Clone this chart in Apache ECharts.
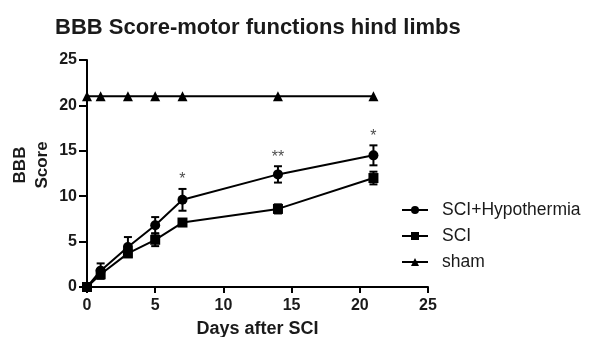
<!DOCTYPE html>
<html>
<head>
<meta charset="utf-8">
<script src="https://cdn.jsdelivr.net/npm/echarts@6/dist/echarts.min.js"></script>
<style>
  html, body { margin: 0; padding: 0; background: #fff; }
  #chart { width: 592px; height: 337px; }
</style>
</head>
<body>
<div id="chart"></div>
<script>
// data
const days = [0, 1, 3, 5, 7, 14, 21];
const hypoMean = [0, 1.8, 4.4, 6.8, 9.6, 12.4, 14.5];
const hypoSem = [0, 0.8, 1.1, 0.9, 1.2, 0.9, 1.1];
const sciMean = [0, 1.4, 3.7, 5.2, 7.1, 8.6, 12.0];
const sciSem = [0, 0.5, 0.4, 0.7, 0.2, 0.5, 0.7];
const shamMean = [21, 21, 21, 21, 21, 21, 21];
const starDays = [7, 14, 21];
const starLabels = ['*', '**', '*'];
const xTicks = [0, 5, 10, 15, 20, 25];
const yTicks = [0, 5, 10, 15, 20, 25];

const FONT = 'Liberation Sans, Arial, sans-serif';

const pairs = (ys) => days.map((d, i) => [d, ys[i]]);

function errorBars(mean, sem) {
  return {
    type: 'custom',
    silent: true,
    z: 1,
    data: days.map((d, i) => [d, mean[i] + sem[i], mean[i] - sem[i]]),
    renderItem: (params, api) => {
      const top = api.coord([api.value(0), api.value(1)]);
      const bot = api.coord([api.value(0), api.value(2)]);
      const w = 4;
      const style = { stroke: '#000', lineWidth: 2 };
      return {
        type: 'group',
        children: [
          { type: 'line', shape: { x1: top[0], y1: top[1], x2: bot[0], y2: bot[1] }, style },
          { type: 'line', shape: { x1: top[0] - w, y1: top[1], x2: top[0] + w, y2: top[1] }, style },
          { type: 'line', shape: { x1: bot[0] - w, y1: bot[1], x2: bot[0] + w, y2: bot[1] }, style }
        ]
      };
    }
  };
}

const lineBase = {
  type: 'line',
  color: '#000',
  symbolSize: 10,
  lineStyle: { color: '#000', width: 2 },
  itemStyle: { color: '#000' },
  z: 3
};

const chart = echarts.init(document.getElementById('chart'), null, { renderer: 'canvas' });
chart.setOption({
  animation: false,
  backgroundColor: '#fff',
  textStyle: { fontFamily: FONT },
  title: {
    text: 'BBB Score-motor functions hind limbs',
    left: 50,
    top: 12,
    textStyle: { fontFamily: FONT, fontSize: 22, fontWeight: 'bold', color: '#1a1a1a' }
  },
  grid: { left: 87, right: 164, top: 60, bottom: 50, containLabel: false, outerBoundsMode: 'none' },
  legend: {
    orient: 'vertical',
    left: 396,
    top: 196,
    itemWidth: 26,
    itemHeight: 10,
    itemGap: 8,
    textStyle: { fontFamily: FONT, fontSize: 17.5, color: '#1a1a1a', padding: [0, 0, 0, 9] },
    data: ['SCI+Hypothermia', 'SCI', 'sham']
  },
  xAxis: {
    type: 'value',
    min: xTicks[0],
    max: xTicks[xTicks.length - 1],
    interval: 5,
    name: 'Days after SCI',
    nameLocation: 'middle',
    nameGap: 33,
    nameTextStyle: { fontFamily: FONT, fontSize: 18, fontWeight: 'bold', color: '#1a1a1a' },
    axisLine: { onZero: false, lineStyle: { color: '#000', width: 2 } },
    axisTick: { show: true, length: 6, lineStyle: { color: '#000', width: 2 } },
    axisLabel: { fontFamily: FONT, fontSize: 16, fontWeight: 'bold', color: '#1a1a1a', margin: 11 },
    splitLine: { show: false }
  },
  yAxis: {
    type: 'value',
    min: yTicks[0],
    max: yTicks[yTicks.length - 1],
    interval: 5,
    axisLine: { show: true, onZero: false, lineStyle: { color: '#000', width: 2 } },
    axisTick: { show: true, length: 8, lineStyle: { color: '#000', width: 2 } },
    axisLabel: { fontFamily: FONT, fontSize: 16, fontWeight: 'bold', color: '#1a1a1a', margin: 10 },
    splitLine: { show: false }
  },
  graphic: [{
    type: 'text',
    x: 31,
    y: 165,
    rotation: Math.PI / 2,
    style: {
      text: 'BBB\nScore',
      font: 'bold 17px ' + FONT,
      fill: '#1a1a1a',
      lineHeight: 22,
      align: 'center',
      verticalAlign: 'middle'
    }
  }],
  series: [
    errorBars(hypoMean, hypoSem),
    errorBars(sciMean, sciSem),
    Object.assign({}, lineBase, { name: 'SCI+Hypothermia', symbol: 'circle', data: pairs(hypoMean) }),
    Object.assign({}, lineBase, { name: 'SCI', symbol: 'rect', data: pairs(sciMean) }),
    Object.assign({}, lineBase, { name: 'sham', symbol: 'triangle', data: pairs(shamMean) }),
    {
      type: 'scatter',
      symbolSize: 0,
      silent: true,
      data: starDays.map((d, i) => ({
        value: [d, hypoMean[days.indexOf(d)] + hypoSem[days.indexOf(d)]],
        label: { formatter: starLabels[i] }
      })),
      label: {
        show: true,
        position: 'top',
        distance: 1,
        fontFamily: FONT,
        fontSize: 16,
        color: '#1a1a1a'
      }
    }
  ]
});
</script>
</body>
</html>
